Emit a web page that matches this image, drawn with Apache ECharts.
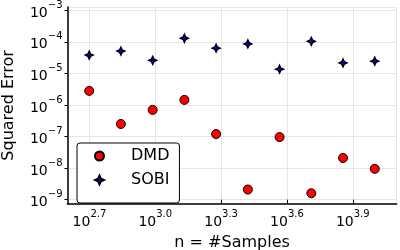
<!DOCTYPE html>
<html>
<head>
<meta charset="utf-8">
<script src="https://cdn.jsdelivr.net/npm/echarts@6/dist/echarts.min.js"></script>
<style>html,body{margin:0;padding:0;background:#fff}#c{width:400px;height:250px}</style>
</head>
<body>
<div id="c"></div>
<script>
const samples = [500, 697, 973, 1357, 1893, 2641, 3684, 5139, 7169, 10000];
const dmdError = [2.8e-6, 2.5e-7, 7.0e-7, 1.45e-6, 1.2e-7, 2.1e-9, 9.6e-8, 1.6e-9, 2.1e-8, 9.5e-9];
const sobiError = [3.8e-5, 5.1e-5, 2.6e-5, 1.3e-4, 6.3e-5, 8.6e-5, 1.36e-5, 1.04e-4, 2.15e-5, 2.45e-5];
const xRange = [Math.pow(10, 2.6), Math.pow(10, 4.1)];
const yRange = [Math.pow(10, -9.127), Math.pow(10, -2.896)];

const FONT = 'DejaVu Sans';
const rich = {
  b: {fontSize: 14, fontFamily: FONT, color: '#000', lineHeight: 20, verticalAlign: 'bottom'},
  s: {fontSize: 10, fontFamily: FONT, color: '#000', lineHeight: 10, verticalAlign: 'top'}
};
function xFmt(v) {
  const l = Math.log10(v);
  const r = Math.round(l * 10) / 10;
  if (Math.abs(l - r) > 0.005 || Math.abs(r * 10 / 3 - Math.round(r * 10 / 3)) > 0.01) return '';
  return '{b|10}{s|' + r.toFixed(1) + '}';
}
function yFmt(v) {
  const l = Math.log10(v);
  const r = Math.round(l);
  if (Math.abs(l - r) > 0.01) return '';
  return '{b|10}{s|' + (r < 0 ? '\u2212' + (-r) : r) + '}';
}
const pair = arr => samples.map((n, i) => [n, arr[i]]);
const star = 'path://M0,-10 L3.2,-3.2 L10,0 L3.2,3.2 L0,10 L-3.2,3.2 L-10,0 L-3.2,-3.2 Z';

const chart = echarts.init(document.getElementById('c'), null, {renderer: 'canvas'});
chart.setOption({
  animation: false,
  backgroundColor: '#fff',
  grid: {left: 67.5, right: 3.3, top: 7, bottom: 46.3, containLabel: false, outerBoundsMode: 'none'},
  xAxis: {
    type: 'log', logBase: Math.pow(10, 0.3), min: xRange[0], max: xRange[1],
    splitNumber: 5,
    name: 'n = #Samples', nameLocation: 'middle', nameGap: 28,
    nameTextStyle: {fontSize: 16, fontFamily: FONT, color: '#000'},
    axisLine: {lineStyle: {color: '#000', width: 1.5}},
    axisTick: {inside: true, length: 4, lineStyle: {color: '#000'}},
    axisLabel: {formatter: xFmt, rich: rich, margin: 6, showMinLabel: false, showMaxLabel: false},
    splitLine: {show: true, lineStyle: {color: '#e6e6e6', width: 1}},
    minorTick: {show: false}
  },
  yAxis: {
    type: 'log', logBase: 10, min: yRange[0], max: yRange[1],
    splitNumber: 6,
    name: 'Squared Error', nameLocation: 'middle', nameGap: 51,
    nameTextStyle: {fontSize: 16, fontFamily: FONT, color: '#000'},
    axisLine: {lineStyle: {color: '#000', width: 1.5}},
    axisTick: {inside: false, length: 3, lineStyle: {color: '#000'}},
    axisLabel: {formatter: yFmt, rich: rich, margin: 5, showMinLabel: false, showMaxLabel: false},
    splitLine: {show: true, lineStyle: {color: '#e6e6e6', width: 1}}
  },
  legend: {
    left: 77, top: 143, orient: 'vertical',
    padding: [4, 10, 14, 17], itemGap: 6, itemWidth: 9, itemHeight: 9,
    borderColor: '#000', borderWidth: 1, borderRadius: 3, backgroundColor: '#fff',
    textStyle: {fontSize: 16, fontFamily: FONT, color: '#000', lineHeight: 18, padding: [0, 0, 0, 22]},
    data: ['DMD', 'SOBI']
  },
  series: [
    {name: 'DMD', type: 'scatter', data: pair(dmdError), symbol: 'circle', symbolSize: 9,
     itemStyle: {color: '#ff0000', borderColor: '#000', borderWidth: 1, opacity: 1}},
    {name: 'SOBI', type: 'scatter', data: pair(sobiError), symbol: star, symbolSize: 8,
     itemStyle: {color: '#0000ff', borderColor: '#000', borderWidth: 1.4, opacity: 1}}
  ]
});
</script>
</body>
</html>
